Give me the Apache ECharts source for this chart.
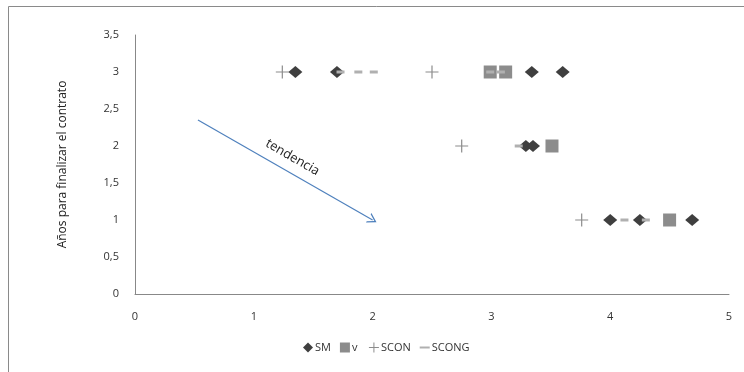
<!DOCTYPE html>
<html><head><meta charset="utf-8">
<script src="https://cdn.jsdelivr.net/npm/echarts@6/dist/echarts.min.js"></script>
<style>html,body{margin:0;padding:0;background:#fff}#c{width:744px;height:372px}</style>
</head><body><div id="c"></div>
<script>
var SM = [[1.35,3],[1.70,3],[3.34,3],[3.60,3],[3.29,2],[3.35,2],[4.0,1],[4.25,1],[4.69,1]];
var V = [[2.99,3],[3.12,3],[3.51,2],[4.5,1]];
var SCON = [[1.24,3],[2.5,3],[2.75,2],[3.76,1]];
var SCONG = [[1.73,3],[1.88,3],[2.01,3],[2.99,3],[3.08,3],[3.23,2],[4.12,1],[4.30,1]];
var trendStart = [0.53,2.35];
var trendEnd = [2.0,1.0];
var yTitle = 'Años para finalizar el contrato';
var trendLabel = 'tendencia';

var font = 'Open Sans';
var chart = echarts.init(document.getElementById('c'));
var plusPath = 'path://M0,5L10,5M5,0L5,10';
chart.setOption({
  animation:false,
  textStyle:{fontFamily:font},
  graphic:[{type:'rect',shape:{x:8.5,y:6.5,width:800,height:400},style:{fill:'none',stroke:'#8a8a8a',lineWidth:1}}],
  grid:{left:135,right:15,top:35,bottom:78},
  legend:{bottom:12,left:298,itemWidth:10,itemHeight:10,itemGap:9,
    textStyle:{fontSize:11,color:'#333',fontFamily:font,padding:[0,0,0,-3]},
    data:[
      {name:'SM',icon:'diamond'},
      {name:'v',icon:'rect'},
      {name:'SCON',icon:plusPath,itemStyle:{color:'none',borderColor:'#8c8c8c',borderWidth:1}},
      {name:'SCONG',icon:'path://M0,4L10,4L10,6L0,6Z'}
    ]},
  xAxis:{type:'value',min:0,max:5,interval:1,splitLine:{show:false},
    axisLine:{onZero:false,lineStyle:{color:'#888'}},axisTick:{show:false},
    axisLabel:{fontSize:11,color:'#333',margin:17}},
  yAxis:{type:'value',min:0,max:3.5,interval:0.5,splitLine:{show:false},
    axisLine:{show:true,lineStyle:{color:'#888'}},axisTick:{show:false},
    axisLabel:{fontSize:11,color:'#333',margin:16,formatter:function(v){return String(v).replace('.',',');}},
    name:yTitle,nameLocation:'middle',nameGap:66,nameTextStyle:{fontSize:12,color:'#222'}},
  series:[
    {name:'SM',type:'scatter',data:SM,symbol:'diamond',symbolSize:[14,12],itemStyle:{color:'#3f3f3f',opacity:1},
      markLine:{silent:true,symbol:['none','path://M0,10L5,0L10,10L8.6,10L5,2.8L1.4,10Z'],symbolSize:[11,9],
        lineStyle:{color:'#4f81bd',width:1.2,type:'solid'},
        label:{show:true,position:'insideMiddleTop',formatter:trendLabel,fontSize:13,color:'#222',fontFamily:font,distance:8},
        data:[[{coord:trendStart},{coord:trendEnd}]]}},
    {name:'v',type:'scatter',data:V,symbol:'rect',symbolSize:13,itemStyle:{color:'#8c8c8c',opacity:1}},
    {name:'SCON',type:'scatter',data:SCON,symbol:plusPath,symbolSize:13,itemStyle:{color:'none',borderColor:'#8c8c8c',borderWidth:1.2,opacity:1}},
    {name:'SCONG',type:'scatter',data:SCONG,symbol:'rect',symbolSize:[8,3],itemStyle:{color:'#b0b0b0',opacity:1}}
  ]
});
</script></body></html>
